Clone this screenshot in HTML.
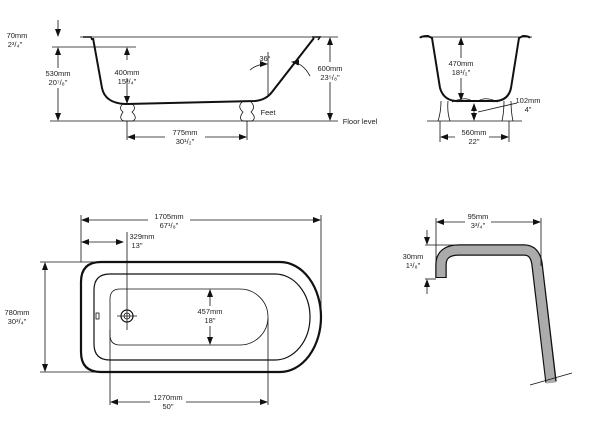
<!DOCTYPE html>
<html><head><style>body{margin:0;background:#fff}svg{display:block}text{font-family:"Liberation Sans",sans-serif;font-size:7.5px;fill:#222;text-anchor:middle}</style></head><body>
<svg width="600" height="431" viewBox="0 0 600 431" xmlns="http://www.w3.org/2000/svg">
<defs><marker id="a" markerWidth="8" markerHeight="6" refX="7" refY="3" orient="auto-start-reverse" markerUnits="userSpaceOnUse"><path d="M0,0L8,3L0,6z" fill="#111"/></marker></defs>
<g stroke="#111" stroke-width="0.8" fill="none">
<!-- side view -->
<line x1="80" y1="37" x2="338" y2="37"/><line x1="50" y1="121" x2="338" y2="121"/>
<line x1="52" y1="47" x2="136" y2="47"/>
<path d="M83,37 L91,37 L92,40 M318,40 L320,37 L312,37" stroke-width="1.5"/>
<path d="M93,38 L102,88 Q105,103 125,104 L255,101 Q266,100 272,92 L314,38" stroke-width="2"/>
<path d="M123,104 Q118,108 123,112 Q118,119 124,121 L133,121 Q138,118 132,112 Q137,108 132,104"/>
<path d="M242,102 Q237,107 243,112 Q238,119 243,121 L252,121 Q257,118 251,112 Q256,107 251,102"/>
<line x1="58" y1="20" x2="58" y2="36" marker-end="url(#a)"/>
<line x1="58" y1="48" x2="58" y2="120" marker-start="url(#a)" marker-end="url(#a)"/>
<line x1="127" y1="48" x2="127" y2="103" marker-start="url(#a)" marker-end="url(#a)"/>
<line x1="330" y1="38" x2="330" y2="120" marker-start="url(#a)" marker-end="url(#a)"/>
<line x1="127" y1="121" x2="127" y2="140"/><line x1="247" y1="121" x2="247" y2="140"/>
<line x1="128" y1="137" x2="246" y2="137" marker-start="url(#a)" marker-end="url(#a)"/>
<line x1="268" y1="52" x2="268" y2="95"/>
<path d="M250,70 Q257,64 267,64" marker-end="url(#a)"/>
<path d="M310,76 Q303,63 292,62" marker-end="url(#a)"/>
<!-- end view -->
<line x1="420" y1="37" x2="532" y2="37"/><line x1="427" y1="121" x2="522" y2="121"/>
<path d="M420,38 Q421,36 428,36 L432,38 L440,88 Q444,102 460,101 L492,101 Q508,102 511,88 L519,38 L523,36 Q529,36 530,38" stroke-width="2"/>
<path d="M441,101 Q441,112 438,121 M448,101 Q447,112 450,121 M504,101 Q504,112 502,121 M511,101 Q511,112 513,121 M452,102 Q465,96 472,101 M478,101 Q486,96 498,102"/>
<line x1="461" y1="38" x2="461" y2="100" marker-start="url(#a)" marker-end="url(#a)"/>
<line x1="474" y1="104" x2="474" y2="120" marker-start="url(#a)" marker-end="url(#a)"/>
<line x1="478" y1="112" x2="517" y2="103"/>
<line x1="440" y1="121" x2="440" y2="142"/><line x1="509" y1="121" x2="509" y2="142"/>
<line x1="441" y1="137" x2="508" y2="137" marker-start="url(#a)" marker-end="url(#a)"/>
<!-- plan view -->
<path d="M101,262 L280,262 A41,55 0 0 1 280,372 L101,372 Q81,372 81,352 L81,282 Q81,262 101,262Z" stroke-width="2.2"/>
<path d="M110,274 L275,274 A35,43 0 0 1 275,360 L110,360 Q94,360 94,344 L94,290 Q94,274 110,274Z" stroke-width="1.2"/>
<path d="M120,289 L240,289 A28,28 0 0 1 240,345 L120,345 Q110,345 110,335 L110,299 Q110,289 120,289Z"/>
<line x1="81" y1="215" x2="81" y2="262"/><line x1="321" y1="215" x2="321" y2="317"/>
<line x1="82" y1="220" x2="320" y2="220" marker-start="url(#a)" marker-end="url(#a)"/>
<line x1="82" y1="242" x2="123" y2="242" marker-start="url(#a)" marker-end="url(#a)"/>
<line x1="127" y1="232" x2="127" y2="330"/><line x1="117" y1="316" x2="137" y2="316"/>
<circle cx="127" cy="316" r="6" stroke-width="1.2"/><circle cx="127" cy="316" r="3"/>
<rect x="96" y="313" width="3" height="6"/>
<line x1="40" y1="262" x2="98" y2="262"/><line x1="40" y1="372" x2="98" y2="372"/>
<line x1="45" y1="263" x2="45" y2="371" marker-start="url(#a)" marker-end="url(#a)"/>
<line x1="210" y1="290" x2="210" y2="344" marker-start="url(#a)" marker-end="url(#a)"/>
<line x1="110" y1="330" x2="110" y2="405"/><line x1="268" y1="318" x2="268" y2="405"/>
<line x1="111" y1="402" x2="267" y2="402" marker-start="url(#a)" marker-end="url(#a)"/>
<!-- spout -->
<path d="M441,278 L441,265 Q441,250 459,250 L524,250 Q535,250 537,264 L551,382" stroke="#111" stroke-width="11.5"/>
<path d="M441,277 L441,265 Q441,250 459,250 L524,250 Q535,250 537,264 L551,383" stroke="#ababab" stroke-width="9"/>
<line x1="530" y1="385" x2="572" y2="373"/>
<line x1="436" y1="218" x2="436" y2="278"/><line x1="541" y1="218" x2="541" y2="266"/>
<line x1="437" y1="222" x2="540" y2="222" marker-start="url(#a)" marker-end="url(#a)"/>
<line x1="425" y1="245" x2="455" y2="245"/><line x1="425" y1="279" x2="436" y2="279"/>
<line x1="427" y1="230" x2="427" y2="244" marker-end="url(#a)"/>
<line x1="427" y1="294" x2="427" y2="280" marker-end="url(#a)"/>
</g>
<g>
<rect x="148" y="212" width="42" height="20" fill="#fff"/>
<text x="169" y="219">1705mm</text><text x="169" y="228">67¹/₈"</text>
<rect x="465" y="213" width="26" height="18" fill="#fff"/>
<text x="478" y="219">95mm</text><text x="478" y="228">3³/₄"</text>
<rect x="150" y="394" width="36" height="18" fill="#fff"/>
<text x="168" y="400">1270mm</text><text x="168" y="409">50"</text>
<rect x="165" y="129" width="40" height="18" fill="#fff"/>
<text x="185" y="135">775mm</text><text x="185" y="144">30¹/₂"</text>
<rect x="455" y="129" width="34" height="18" fill="#fff"/>
<text x="474" y="135">560mm</text><text x="474" y="144">22"</text>
<rect x="195" y="306" width="30" height="20" fill="#fff"/>
<text x="210" y="314">457mm</text><text x="210" y="323">18"</text>
<rect x="115" y="60" width="26" height="18" fill="#fff"/>
<text x="127" y="75">400mm</text><text x="127" y="84">15³/₄"</text>
<rect x="44" y="68" width="28" height="20" fill="#fff"/>
<text x="58" y="76">530mm</text><text x="58" y="85">20⁷/₈"</text>
<rect x="316" y="62" width="28" height="20" fill="#fff"/>
<text x="330" y="71">600mm</text><text x="330" y="80">23⁵/₈"</text>
<rect x="448" y="58" width="28" height="20" fill="#fff"/>
<text x="461" y="66">470mm</text><text x="461" y="75">18¹/₂"</text>
<text x="17" y="38">70mm</text><text x="15" y="47">2³/₄"</text>
<text x="265" y="61">36°</text>
<text x="268" y="115">Feet</text>
<text x="360" y="124">Floor level</text>
<text x="528" y="103">102mm</text><text x="528" y="112">4"</text>
<text x="142" y="239">329mm</text><text x="137" y="248">13"</text>
<text x="17" y="315">780mm</text><text x="17" y="324">30³/₄"</text>
<text x="413" y="259">30mm</text><text x="413" y="268">1¹/₈"</text>
</g>
</svg>
</body></html>
